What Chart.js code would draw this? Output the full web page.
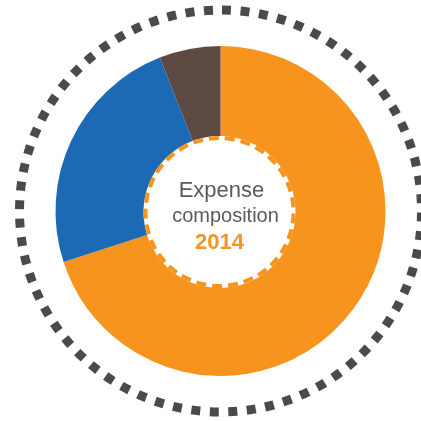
<!DOCTYPE html>
<html>
<head>
<meta charset="utf-8">
<script src="https://cdn.jsdelivr.net/npm/chart.js@4/dist/chart.umd.min.js"></script>
<style>
html,body{margin:0;padding:0;background:#fff;}
#wrap{width:421px;height:421px;position:relative;}
</style>
</head>
<body>
<div id="wrap"><canvas id="c" width="421" height="421"></canvas></div>
<script>
const categories = ['Category A', 'Category B', 'Category C'];
const values = [70, 24, 6];
const colors = ['#F7941E', '#1C6AB4', '#5D4A42'];
const titleLines = ['Expense', 'composition'];
const yearLabel = '2014';

const decorPlugin = {
  id: 'decor',
  afterDatasetsDraw(chart) {
    const ctx = chart.ctx;
    const meta = chart.getDatasetMeta(0);
    const arc = meta.data[0];
    const cx = arc.x, cy = arc.y;
    const outer = arc.outerRadius;
    ctx.save();
    // outer dotted ring
    const ringR = outer + 36;
    const count = 68;
    const period = 2 * Math.PI * ringR / count;
    ctx.beginPath();
    ctx.arc(cx, cy, ringR, -Math.PI / 2, 1.5 * Math.PI);
    ctx.strokeStyle = '#4A4A4A';
    ctx.lineWidth = 9;
    ctx.lineCap = 'butt';
    ctx.setLineDash([9, period - 9]);
    ctx.lineDashOffset = -1.5;
    ctx.stroke();
    // inner white circle
    ctx.setLineDash([]);
    ctx.beginPath();
    ctx.arc(cx - 1, cy + 1, 76, 0, 2 * Math.PI);
    ctx.fillStyle = '#ffffff';
    ctx.fill();
    ctx.beginPath();
    ctx.arc(cx - 1, cy + 1, 74, 0, 2 * Math.PI);
    ctx.strokeStyle = '#F7941E';
    ctx.lineWidth = 4;
    ctx.setLineDash([10, 6]);
    ctx.stroke();
    ctx.setLineDash([]);
    // text
    ctx.textAlign = 'center';
    ctx.textBaseline = 'alphabetic';
    ctx.fillStyle = '#5A5A5A';
    ctx.font = '22px "Liberation Sans", Arial, sans-serif';
    ctx.fillText(titleLines[0], cx + 1, 197);
    ctx.font = '20px "Liberation Sans", Arial, sans-serif';
    ctx.fillText(titleLines[1], cx + 5, 222);
    ctx.fillStyle = '#F7941E';
    ctx.font = 'bold 22px "Liberation Sans", Arial, sans-serif';
    ctx.fillText(yearLabel, cx - 1, 249);
    ctx.restore();
  }
};

new Chart(document.getElementById('c'), {
  type: 'doughnut',
  data: {
    labels: categories,
    datasets: [{
      data: values,
      backgroundColor: colors,
      borderWidth: 0,
      hoverOffset: 0
    }]
  },
  options: {
    responsive: false,
    animation: false,
    cutout: '44%',
    layout: { padding: { left: 55, right: 35, top: 46, bottom: 45 } },
    plugins: {
      legend: { display: false },
      tooltip: { enabled: false }
    },
    events: []
  },
  plugins: [decorPlugin]
});
</script>
</body>
</html>
